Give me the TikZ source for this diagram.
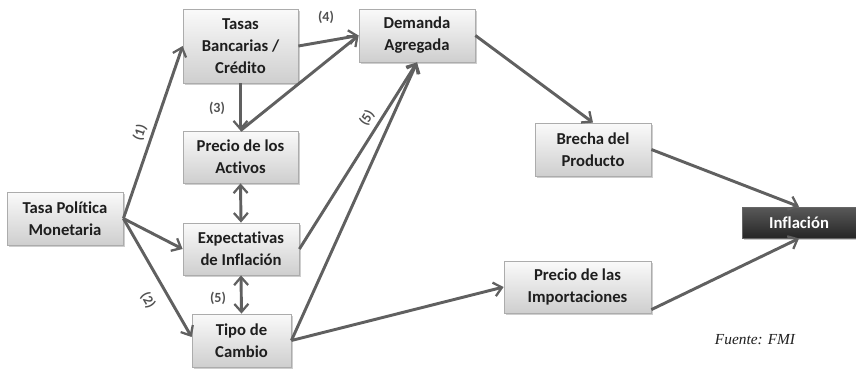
\documentclass[tikz,border=0pt]{standalone}
\usepackage{fontspec}
\setmainfont[Ligatures=NoCommon]{Carlito}
\newfontfamily\fuentefont{Liberation Serif}
\usetikzlibrary{arrows.meta,shadows,calc}
\definecolor{arrgray}{HTML}{606060}
\definecolor{txtdark}{HTML}{1E1E1E}
\definecolor{lblgray}{HTML}{505050}
\tikzset{
  boxnode/.style={draw=gray!65, line width=0.6pt, top color=gray!4, bottom color=gray!38,
    drop shadow={shadow xshift=1.8pt, shadow yshift=-1.8pt, fill=gray!55, opacity=0.7},
    font=\fontsize{12.5}{16.5}\selectfont\bfseries, text=txtdark, align=center, inner sep=0pt},
  darkbox/.style={draw=black!60, line width=0.6pt, top color=black!65, bottom color=black!85,
    drop shadow={shadow xshift=1.5pt, shadow yshift=-1.5pt, fill=gray!60, opacity=0.7},
    font=\fontsize{12.5}{16.5}\selectfont\bfseries, text=white, align=center, inner sep=0pt},
  barb/.tip={Straight Barb[length=6pt,width=10.5pt,line width=1.7pt]},
  conn/.style={draw=arrgray, line width=2.2pt, -barb},
  dconn/.style={draw=arrgray, line width=2.2pt, barb-barb},
  lbl/.style={font=\fontsize{10.5}{12}\selectfont\bfseries, text=lblgray, inner sep=1pt}
}
\begin{document}
\begin{tikzpicture}[x=0.75pt,y=-0.75pt]
\useasboundingbox (0,0) rectangle (856,369);
% boxes
\node[boxnode, minimum width=87pt, minimum height=39.75pt] (tpm) at (65,218.5) {Tasa Política\\Monetaria};
\node[boxnode, minimum width=86.25pt, minimum height=55.5pt] (tasas) at (240.5,46) {Tasas\\Bancarias /\\Crédito};
\node[boxnode, minimum width=87pt, minimum height=39.75pt] (dem) at (417,35.5) {Demanda\\Agregada};
\node[boxnode, minimum width=86.25pt, minimum height=39pt] (act) at (240.5,157) {Precio de los\\Activos};
\node[boxnode, minimum width=87pt, minimum height=39pt] (exp) at (241,249) {Expectativas\\de Inflación};
\node[boxnode, minimum width=74.25pt, minimum height=39.75pt] (tipo) at (241.5,340.5) {Tipo de\\Cambio};
\node[boxnode, minimum width=87pt, minimum height=39.75pt] (bre) at (593,149.5) {Brecha del\\Producto};
\node[boxnode, minimum width=110.25pt, minimum height=39pt] (imp) at (577.5,287) {Precio de las\\Importaciones};
\node[darkbox, minimum width=85.5pt, minimum height=23.25pt] (inf) at (799,222.5) {Inflación};
\node[font=\fuentefont\itshape\fontsize{11.5}{13}\selectfont, text=txtdark] (fte) at (755,340) {Fuente: FMI};
% connectors
\draw[conn] (tpm.east) -- (tasas.west);
\draw[conn] (tpm.east) -- (exp.west);
\draw[conn] (tpm.east) -- (tipo.176);
\draw[conn] (tasas.east) -- (dem.west);
\draw[conn] (tasas.south) -- (act.north);
\draw[conn] (act.north) -- (dem.west);
\draw[conn] (exp.east) -- (dem.south);
\draw[conn] (tipo.east) -- (dem.south);
\draw[conn] (tipo.east) -- (imp.west);
\draw[dconn] (act.south) -- (exp.north);
\draw[dconn] (exp.south) -- (tipo.north);
\draw[conn] (dem.east) -- (bre.north);
\draw[conn] (bre.east) -- (inf.north);
\draw[conn] (imp.-17) -- (inf.south);
% labels
\node[lbl, rotate=71] (l1) at (140,133) {(1)};
\node[lbl, rotate=-60] (l2) at (148,300) {(2)};
\node[lbl] (l3) at (217,108) {(3)};
\node[lbl] (l4) at (326,17) {(4)};
\node[lbl, rotate=58] (l5a) at (367,118) {(5)};
\node[lbl] (l5b) at (218,298) {(5)};
\end{tikzpicture}
\end{document}
